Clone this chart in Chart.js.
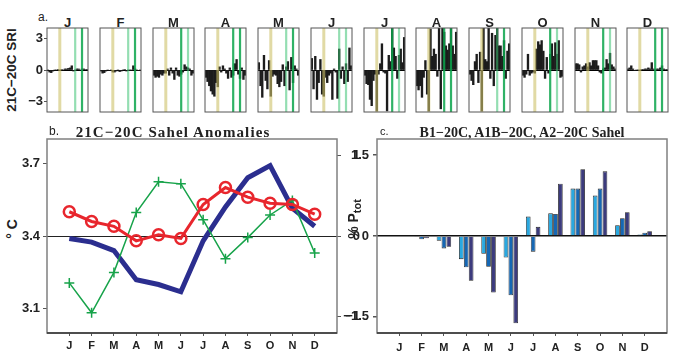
<!DOCTYPE html>
<html lang="en">
<head>
<meta charset="UTF-8">
<title>21C-20C Sahel anomalies</title>
<script src="https://cdn.jsdelivr.net/npm/chart.js"></script>
<style>
  body { margin: 0; background: #fff; }
  #fig { position: relative; width: 675px; height: 356px; overflow: hidden; font-family: "Liberation Sans", Arial, sans-serif; color: #222; }
  #fig canvas { position: absolute; }
  .txt { position: absolute; white-space: nowrap; line-height: 1; }
  .ctr { transform: translateX(-50%); }
  .rot { transform: translate(-50%, -50%) rotate(-90deg); }
  .serif { font-family: "Liberation Serif", "Times New Roman", serif; font-weight: bold; }
  b { font-weight: bold; }
</style>
</head>
<body>
<div id="fig"></div>
<script>
const months = ['J', 'F', 'M', 'A', 'M', 'J', 'J', 'A', 'S', 'O', 'N', 'D'];

// panel a: 21C-20C SRI for each model, one list per month
const sriJan = [0, -0.2, -0.25, -0.1, 0, 0, 0.05, 0, 0.05, 0, 0.1, 0.1, 0.15, 0.2, 0.4, -0.1, 0, 0.1, 0.1, 0, 0.1, 0.1, 0.05, 0.05];
const sriFeb = [-0.1, -0.3, -0.25, -0.1, 0, -0.05, 0, -0.2, -0.2, -0.1, 0, -0.15, -0.1, 0, 0.05, -0.1, 0, 0, 0, 0.4, 0.1, 0, -0.05, 0];
const sriMar = [-0.5, -0.7, -0.6, -0.7, -0.4, -0.5, -0.3, -0.3, 0.1, -0.5, 0.2, -0.3, -0.9, 0.2, -0.5, -0.6, -0.4, -0.2, 0.5, 0.3, 0.2, 0.1, -0.5, -0.3];
const sriApr = [-0.7, -1.1, -1.5, -2.0, -2.3, -2.5, -1.2, -1.6, 0.3, -0.2, 0.4, 0.1, -0.3, -0.8, 0.2, -0.7, -0.5, 0.6, 1.0, -0.4, -0.8, 0.2, -0.9, -0.5];
const sriMay = [0.7, -1.5, -2.6, 1.4, -1.0, -1.8, 0.9, -2.5, -0.6, -0.4, -0.5, -1.3, -1.6, -1.1, 0.5, -1.5, 0.3, 0.8, -1.9, 1.2, -1.2, 0.4, 0.1, -0.5];
const sriJun = [1.1, -1.8, 1.3, -2.8, -1.2, 1.0, -2.3, -2.5, -0.7, -1.2, -0.5, -0.3, -2.8, 0.1, -0.2, -2.7, 2.0, -0.8, 0.3, -1.3, 0.6, -1.1, 2.1, 0.4];
const sriJul = [-0.5, -1.3, -1.4, -2.8, -3.4, -1.0, -0.4, -3.9, -0.4, 0.6, 2.5, -0.2, -0.3, -3.9, 1.4, 0.8, 4.0, 2.1, 1.3, -0.8, 1.4, 2.0, 0.7, 3.1];
const sriAug = [-1.5, -1.9, -1.5, -2.6, -0.7, 0.9, -2.3, -3.9, 3.9, 1.3, 2.0, 1.5, -0.6, 4.0, -3.7, 4.0, 3.6, 2.3, 1.9, 2.5, 4.0, 2.3, 1.5, 3.6];
const sriSep = [-0.4, -1.0, -1.4, 0.8, 1.5, -1.2, 1.7, -3.9, 4.0, 1.0, 0.8, 4.0, -0.8, 3.5, -1.5, 3.3, 4.0, 2.3, 2.3, 1.3, 2.8, -0.8, 1.8, 2.5];
const sriOct = [-0.5, -0.7, -0.4, 1.5, -0.5, -0.3, -0.2, -0.3, 2.0, 2.7, 2.4, 2.8, 1.8, -0.8, 1.2, -0.3, 1.5, 2.5, 1.3, 2.6, 1.5, 2.8, -0.7, -0.6];
const sriNov = [0.6, 0.6, 0.5, -0.2, 0.3, 0.4, 0.6, 0.3, 0.7, 0.4, 0.9, 0.9, 0.9, 0.4, -0.2, -0.3, 0.1, 0.2, 1.0, 0.6, 1.6, 0.5, 0.3, 0.1];
const sriDec = [0.1, 0.2, 0.4, 0.1, -0.05, 0, 0, 0, 0.05, 0.05, 0.1, 0.1, 0.2, 0.1, 0.7, 0.1, 0, 0.1, 0.1, 0.2, 0.4, 0.1, 0.05, 0.05];
const sriTicks = [-3, 0, 3];
// models picked out with vertical lines in panel a
const markedModels = [7, 16, 20];

// panel b: 21C-20C Sahel anomalies
const tAnomaly = [3.39, 3.375, 3.34, 3.22, 3.20, 3.17, 3.38, 3.52, 3.64, 3.69, 3.515, 3.44];
const tAnomalyAlt = [3.50, 3.46, 3.44, 3.38, 3.405, 3.39, 3.53, 3.60, 3.56, 3.535, 3.53, 3.49];
const pAnomaly = [-0.58, -0.95, -0.45, 0.29, 0.67, 0.645, 0.20, -0.28, -0.02, 0.26, 0.44, -0.21];
const tempTicks = [3.1, 3.4, 3.7];
const precipTicks = [-1, 0, 1];

// panel c: B1-20C, A1B-20C, A2-20C Sahel (% Ptot)
const b1 = [0, -0.01, -0.09, -0.43, -0.33, -0.40, 0.36, 0.42, 0.88, 0.75, 0.20, 0.03];
const a1b = [0, -0.06, -0.23, -0.58, -0.57, -1.10, -0.29, 0.41, 0.88, 0.88, 0.33, 0.06];
const a2 = [0, -0.04, -0.20, -0.83, -1.05, -1.62, 0.17, 0.97, 1.24, 1.20, 0.44, 0.09];
const scenTicks = [-1.5, 0, 1.5];

const fig = document.getElementById('fig');

function addCanvas(left, top, w, h) {
  const c = document.createElement('canvas');
  c.width = w; c.height = h;
  c.style.left = left + 'px'; c.style.top = top + 'px';
  c.style.width = w + 'px'; c.style.height = h + 'px';
  fig.appendChild(c);
  return c;
}

function addText(html, left, top, cls, css) {
  const d = document.createElement('div');
  d.className = 'txt ' + (cls || '');
  d.innerHTML = html;
  d.style.left = left + 'px';
  d.style.top = top + 'px';
  Object.assign(d.style, css || {});
  fig.appendChild(d);
}

const minus = v => String(v).replace('-', '\u2212');
const pts = arr => arr.map((v, i) => ({ x: i + 1, y: v }));
const fixTicks = list => scale => { scale.ticks = list.map(v => ({ value: v })); };
const tickFont = { family: 'Liberation Sans', weight: 'bold', size: 13 };
const monthFont = { family: 'Liberation Sans', weight: 'bold', size: 11 };

// box round each plot (bottom axis a bit darker)
const framePlugin = {
  id: 'frame',
  afterDraw(chart, args, opts) {
    const { ctx, chartArea: a } = chart;
    ctx.save();
    ctx.strokeStyle = opts.color;
    ctx.lineWidth = opts.width;
    ctx.strokeRect(a.left, a.top, a.right - a.left, a.bottom - a.top);
    if (opts.bottom) {
      ctx.strokeStyle = opts.bottom;
      ctx.beginPath();
      ctx.moveTo(a.left, a.bottom);
      ctx.lineTo(a.right, a.bottom);
      ctx.stroke();
    }
    ctx.restore();
  }
};

// vertical lines over the marked models
const markerPlugin = {
  id: 'markers',
  afterDatasetsDraw(chart, args, opts) {
    const { ctx, chartArea: a, scales: { x } } = chart;
    ctx.save();
    markedModels.forEach((m, k) => {
      const px = x.getPixelForValue(m);
      ctx.strokeStyle = opts.colors[k];
      ctx.lineWidth = k === 0 ? 3 : 2.2;
      ctx.beginPath();
      ctx.moveTo(px, a.top);
      ctx.lineTo(px, a.bottom);
      ctx.stroke();
    });
    ctx.restore();
  }
};

// ---------- panel a ----------
const KHAKI = 'rgba(205,193,105,0.6)';
const LIGHTG = 'rgba(60,195,115,0.55)';
const DARKG = 'rgba(10,165,75,0.85)';
const greenPairs = [
  [LIGHTG, DARKG], [LIGHTG, DARKG], [DARKG, LIGHTG], [DARKG, DARKG],
  [LIGHTG, DARKG], [LIGHTG, LIGHTG], [DARKG, LIGHTG], [DARKG, DARKG],
  [LIGHTG, DARKG], [DARKG, LIGHTG], [DARKG, LIGHTG], [DARKG, DARKG]
];
const sriByMonth = [sriJan, sriFeb, sriMar, sriApr, sriMay, sriJun, sriJul, sriAug, sriSep, sriOct, sriNov, sriDec];

addText('a.', 38, 10.5, '', { fontSize: '12px' });
addText('<b>21C\u221220C SRI</b>', 11.5, 69.5, 'rot', { fontSize: '13.5px' });

sriByMonth.forEach((vals, i) => {
  const x0 = Math.round(47 + i * 52.75);
  addText('<b>' + months[i] + '</b>', x0 + 20.5, 15.5, 'ctr', { fontSize: '13px' });
  // plot box: x0..x0+41, y 28..112
  const c = addCanvas(x0 - 40, 18, 83, 104);
  new Chart(c, {
    type: 'bar',
    data: {
      labels: vals.map((v, k) => k + 1),
      datasets: [{ data: vals, backgroundColor: '#1c1c1c', barPercentage: 1, categoryPercentage: 1 }]
    },
    options: {
      responsive: false,
      animation: false,
      layout: { padding: { top: 10, bottom: 10, right: 2 } },
      plugins: {
        legend: { display: false },
        tooltip: { enabled: false },
        frame: { color: '#555', width: 1 },
        markers: { colors: [KHAKI].concat(greenPairs[i]) }
      },
      scales: {
        x: { display: false },
        y: {
          min: -4, max: 4,
          afterBuildTicks: fixTicks(sriTicks),
          afterFit: s => { s.width = 40; },
          border: { display: false },
          grid: {
            color: ctx => ctx.tick && ctx.tick.value === 0 ? '#000' : 'rgba(0,0,0,0)',
            tickColor: i === 0 ? '#555' : 'rgba(0,0,0,0)',
            tickLength: 3
          },
          ticks: {
            padding: 1,
            color: i === 0 ? '#222' : 'rgba(0,0,0,0)',
            font: { family: 'Liberation Sans', weight: 'bold', size: 13, lineHeight: 1 },
            callback: v => minus(v)
          }
        }
      }
    },
    plugins: [framePlugin, markerPlugin]
  });
});

// ---------- panel b ----------
addText('b.', 49, 125, '', { fontSize: '12px' });
addText('21C\u221220C Sahel Anomalies', 173, 125, 'serif ctr', { fontSize: '15px', letterSpacing: '1.1px' });
addText('<b>\u00b0 C</b>', 12.4, 228.5, 'rot', { fontSize: '14px' });

const cb = addCanvas(0, 125, 360, 231);
new Chart(cb, {
  type: 'line',
  data: {
    datasets: [
      { label: 'red', data: pts(tAnomalyAlt), yAxisID: 'y', borderColor: '#e8262d', borderWidth: 3,
        pointStyle: 'circle', pointRadius: 5.5, pointBorderWidth: 2.5, pointBorderColor: '#e8262d', pointBackgroundColor: 'rgba(0,0,0,0)' },
      { label: 'green', data: pts(pAnomaly), yAxisID: 'y2', borderColor: '#17a34a', borderWidth: 1.5,
        pointStyle: 'cross', pointRadius: 5, pointBorderWidth: 1.5, pointBorderColor: '#17a34a' },
      { label: 'blue', data: pts(tAnomaly), yAxisID: 'y', borderColor: '#2b2e8f', borderWidth: 5, pointRadius: 0 }
    ]
  },
  options: {
    responsive: false,
    animation: false,
    layout: { padding: { top: 14 } },
    plugins: { legend: { display: false }, tooltip: { enabled: false }, frame: { color: '#808080', width: 1.5, bottom: '#333' } },
    scales: {
      x: {
        type: 'linear', min: 0, max: 13,
        afterBuildTicks: fixTicks(months.map((m, i) => i + 1)),
        afterFit: s => { s.height = 23; },
        border: { display: false },
        grid: { drawOnChartArea: false, tickLength: 3, tickColor: '#555' },
        ticks: { autoSkip: false, maxRotation: 0, padding: 3, color: '#222', font: monthFont, callback: v => months[v - 1] }
      },
      y: {
        position: 'left', min: 3.0, max: 3.8,
        afterBuildTicks: fixTicks(tempTicks),
        afterFit: s => { s.width = 47; },
        border: { display: false },
        grid: { color: ctx => ctx.tick && ctx.tick.value === 3.4 ? '#222' : 'rgba(0,0,0,0)', tickColor: '#555', tickLength: 4 },
        ticks: { padding: 3, color: '#222', font: tickFont, callback: v => v.toFixed(1) }
      },
      y2: {
        position: 'right', min: -1.2, max: 1.2,
        afterBuildTicks: fixTicks(precipTicks),
        afterFit: s => { s.width = 23; },
        border: { display: false },
        grid: { drawOnChartArea: false, tickColor: '#555', tickLength: 4 },
        ticks: { crossAlign: 'far', padding: -4, color: '#222', font: tickFont, callback: v => minus(v) }
      }
    }
  },
  plugins: [framePlugin]
});
addText('<b>% P<sub style="font-size:11px;vertical-align:-3px">tot</sub></b>', 354, 218.5, 'rot', { fontSize: '14px' });

// ---------- panel c ----------
addText('c.', 380, 126, '', { fontSize: '11px' });
addText('B1\u221220C, A1B\u221220C, A2\u221220C Sahel', 522, 126, 'serif ctr', { fontSize: '14px' });

const cc = addCanvas(335, 125, 340, 231);
new Chart(cc, {
  type: 'bar',
  data: {
    datasets: [
      { label: 'B1\u221220C', data: pts(b1), backgroundColor: '#29a8e0' },
      { label: 'A1B\u221220C', data: pts(a1b), backgroundColor: '#1567b4' },
      { label: 'A2\u221220C', data: pts(a2), backgroundColor: '#3c3b7d' }
    ]
  },
  options: {
    responsive: false,
    animation: false,
    datasets: { bar: { borderColor: '#222', borderWidth: 0.8, categoryPercentage: 0.66, barPercentage: 0.95 } },
    layout: { padding: { top: 14, right: 8 } },
    plugins: { legend: { display: false }, tooltip: { enabled: false }, frame: { color: '#808080', width: 1.5, bottom: '#333' } },
    scales: {
      x: {
        type: 'linear', min: 0, max: 13, offset: false,
        afterBuildTicks: fixTicks(months.map((m, i) => i + 1)),
        afterFit: s => { s.height = 23; },
        border: { display: false },
        grid: { offset: false, drawOnChartArea: false, tickLength: 3, tickColor: '#555' },
        ticks: { autoSkip: false, maxRotation: 0, padding: 5, color: '#222', font: monthFont, callback: v => months[v - 1] }
      },
      y: {
        min: -1.8, max: 1.8,
        afterBuildTicks: fixTicks(scenTicks),
        afterFit: s => { s.width = 42; },
        border: { display: false },
        grid: { color: ctx => ctx.tick && ctx.tick.value === 0 ? '#111' : 'rgba(0,0,0,0)', lineWidth: 1.5, tickColor: '#555', tickLength: 4 },
        ticks: { padding: 4, color: '#222', font: tickFont, callback: v => v === 0 ? '0' : minus(v.toFixed(1)) }
      }
    }
  },
  plugins: [framePlugin]
});
</script>
</body>
</html>
